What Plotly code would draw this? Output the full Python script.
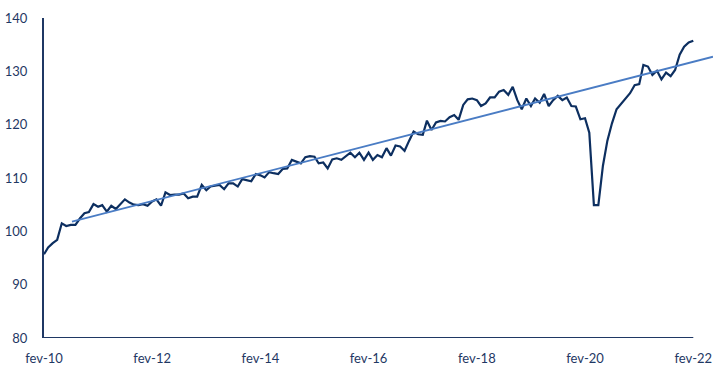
import pandas as pd
import plotly.graph_objects as go

# Monthly index, Feb 2010 .. Feb 2022
start_month = "2010-02-01"
values = [
    95.7, 97.0, 97.8, 98.4, 101.5, 101.0, 101.2, 101.2, 102.4, 103.4,
    103.6, 105.1, 104.6, 104.9, 103.7, 104.8, 104.2, 105.1, 106.0, 105.4,
    105.0, 104.9, 105.1, 104.8, 105.6, 106.0, 104.8, 107.3, 106.8, 106.9,
    106.9, 107.1, 106.2, 106.5, 106.5, 108.7, 107.7, 108.4, 108.6, 108.7,
    107.9, 109.0, 109.0, 108.4, 109.8, 109.6, 109.4, 110.75, 110.5, 110.1,
    111.1, 110.9, 110.75, 111.7, 111.8, 113.4, 113.1, 112.75, 113.9, 114.1,
    114.0, 112.75, 112.9, 111.8, 113.5, 113.7, 113.4, 114.0, 114.75, 113.9,
    114.75, 113.4, 114.75, 113.4, 114.3, 113.9, 115.6, 114.2, 116.1, 115.9,
    115.1, 117.0, 118.7, 118.2, 118.1, 120.75, 119.0, 120.4, 120.7, 120.6,
    121.4, 121.8, 120.9, 123.7, 124.75, 124.9, 124.6, 123.5, 124.0, 125.1,
    125.1, 126.2, 126.5, 125.6, 127.1, 124.6, 122.9, 124.9, 123.5, 124.9,
    124.1, 125.75, 123.5, 124.6, 125.4, 124.6, 125.1, 123.5, 123.4, 121.0,
    121.2, 118.5, 104.9, 104.9, 112.3, 117.0, 120.25, 122.9, 123.9, 124.9,
    125.9, 127.4, 127.6, 131.2, 130.9, 129.3, 130.1, 128.5, 129.75, 129.1,
    130.25, 133.1, 134.6, 135.4, 135.75,
]
dates = pd.date_range(start_month, periods=len(values), freq="MS")

# Linear trend line (endpoints)
trend_x = ["2010-08-09", "2022-06-14"]
trend_y = [101.8, 132.74]

tick_vals = ["2010-02-01", "2012-02-01", "2014-02-01", "2016-02-01",
             "2018-02-01", "2020-02-01", "2022-02-01"]
tick_text = ["fev-10", "fev-12", "fev-14", "fev-16", "fev-18", "fev-20", "fev-22"]
y_ticks = [80, 90, 100, 110, 120, 130, 140]

TEXT = "#1F3864"
NAVY = "#0D2F60"
TREND = "#4A7CC4"

fig = go.Figure()
fig.add_trace(go.Scatter(x=dates, y=values, mode="lines",
                         line=dict(color=NAVY, width=2.2), showlegend=False,
                         hoverinfo="skip"))
fig.add_trace(go.Scatter(x=trend_x, y=trend_y, mode="lines",
                         line=dict(color=TREND, width=1.8), showlegend=False,
                         hoverinfo="skip"))

# x-axis baseline from first to last observation
fig.add_shape(type="line", xref="x", yref="y",
              x0=dates[0], x1=dates[-1], y0=80, y1=80,
              line=dict(color=TEXT, width=2), layer="above")

fig.update_layout(
    width=713, height=365,
    margin=dict(l=44, r=0, t=18, b=27),
    paper_bgcolor="white", plot_bgcolor="white",
    font=dict(family="Lato, Carlito, Liberation Sans, sans-serif", size=13, color=TEXT),
    xaxis=dict(range=["2010-02-01", "2022-06-14"], tickmode="array",
               tickvals=tick_vals, ticktext=tick_text, showgrid=False,
               zeroline=False, showline=False, ticks="", ticklabelstandoff=11,
               automargin=False, tickfont=dict(size=13, color=TEXT)),
    yaxis=dict(range=[80, 140], tickmode="array", tickvals=y_ticks,
               showgrid=False, zeroline=False, showline=True, linecolor=TEXT,
               linewidth=2, ticks="", ticklabelstandoff=12, automargin=False,
               tickfont=dict(size=13, color=TEXT)),
)

fig.write_html("out.html")
